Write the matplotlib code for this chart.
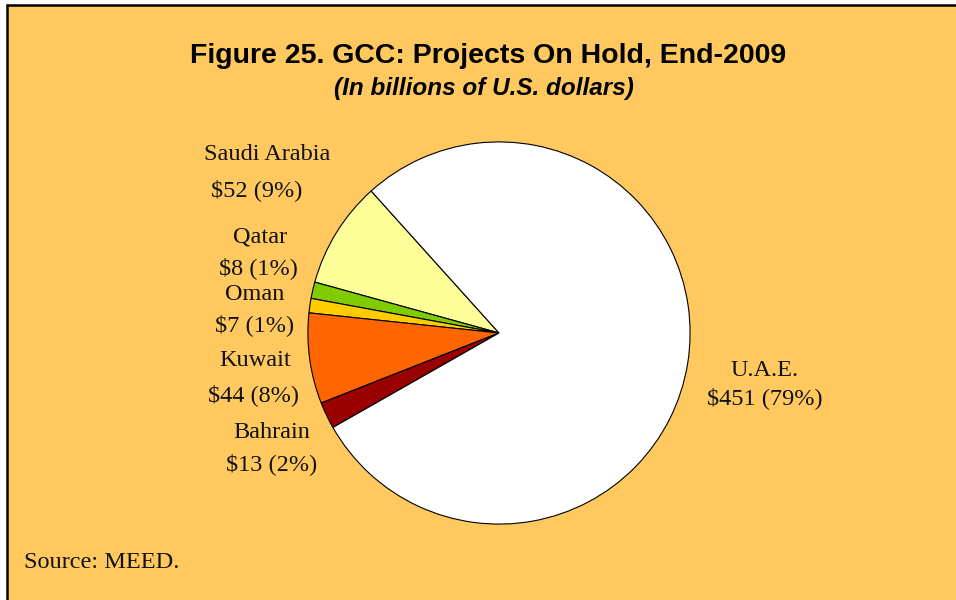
import matplotlib.pyplot as plt
from matplotlib.patches import Rectangle

# data
countries = ['Saudi Arabia', 'Qatar', 'Oman', 'Kuwait', 'Bahrain', 'U.A.E.']
values = [52, 8, 7, 44, 13, 451]
shares = [9, 1, 1, 8, 2, 79]
colors = ['#FFFF99', '#80CC00', '#FFCC00', '#FF6600', '#990000', '#FFFFFF']

W, H = 956, 600
bg = '#FFC95F'

fig = plt.figure(figsize=(W / 100, H / 100), dpi=100)
fig.patch.set_facecolor('white')

# panel background with the black top/left frame
fig.patches.append(Rectangle((6.5 / W, -10 / H), 1.0, (H - 5 + 10) / H,
                             transform=fig.transFigure, facecolor=bg,
                             edgecolor='black', linewidth=1.8, zorder=-5))

# pie axes: center (499, 333) px, radius 193 px
cx, cy, r = 499, 333, 193
ax = fig.add_axes([(cx - r) / W, (H - cy - r) / H, 2 * r / W, 2 * r / H])
ax.set_zorder(2)
ax.pie(values, colors=colors, startangle=132, counterclock=True,
       wedgeprops=dict(edgecolor='black', linewidth=0.8))
ax.set_xlim(-1.01, 1.01)
ax.set_ylim(-1.01, 1.01)
ax.set_aspect('auto')
ax.axis('off')

def px(x, y):
    return x / W, 1 - y / H

serif = ['Liberation Serif', 'DejaVu Serif']
sans = ['Liberation Sans', 'DejaVu Sans']

# label positions (name center, value center) in pixels
label_pos = {
    'Saudi Arabia': ((267, 155), (257, 190)),
    'Qatar': ((260, 237), (258, 268)),
    'Oman': ((255, 294), (255, 325)),
    'Kuwait': ((255, 361), (254, 395)),
    'Bahrain': ((272, 432), (272, 464)),
    'U.A.E.': ((765, 370), (765, 398)),
}
for name, v, s in zip(countries, values, shares):
    (nx, ny), (vx, vy) = label_pos[name]
    fig.text(*px(nx, ny), name, ha='center', va='center', fontsize=17.5,
             family=serif, color='#111111', zorder=3)
    fig.text(*px(vx, vy), f'${v} ({s}%)', ha='center', va='center',
             fontsize=17.5, family=serif, color='#111111', zorder=3)

fig.text(*px(488, 56), 'Figure 25. GCC: Projects On Hold, End-2009',
         ha='center', va='center', fontsize=20.5, fontweight='bold',
         family=sans)
fig.text(*px(484, 89), '(In billions of U.S. dollars)', ha='center',
         va='center', fontsize=17.5, fontstyle='italic', fontweight='bold',
         family=sans)
fig.text(*px(24, 563), 'Source: MEED.', ha='left', va='center',
         fontsize=17.5, family=serif, color='#111111')

fig.savefig('out.png', dpi=100, facecolor=fig.get_facecolor())
